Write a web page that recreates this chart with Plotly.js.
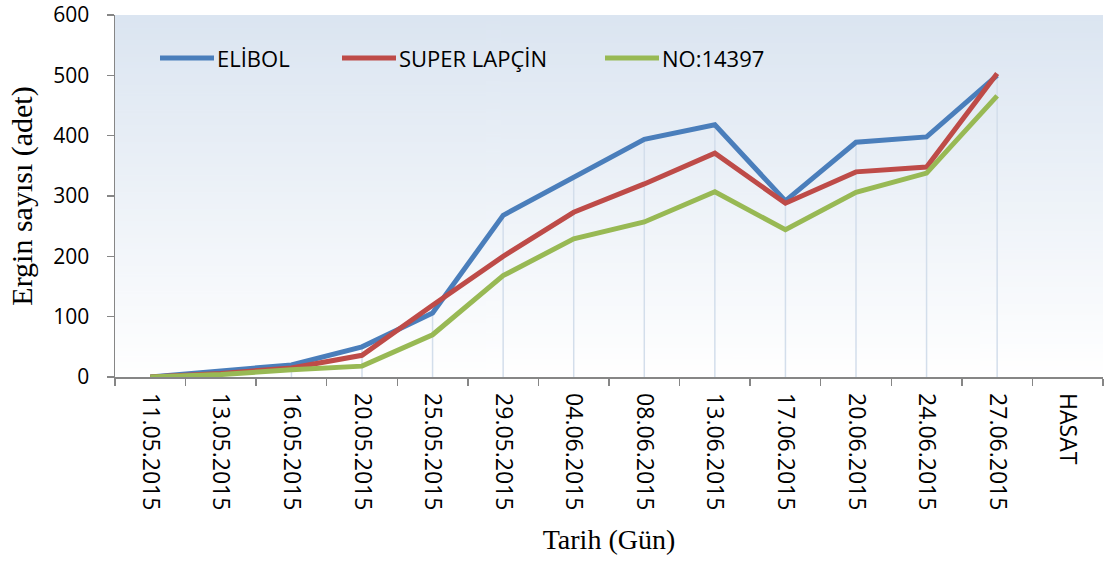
<!DOCTYPE html>
<html>
<head>
<meta charset="utf-8">
<script src="https://cdn.plot.ly/plotly-3.0.1.min.js"></script>
<style>html,body{margin:0;padding:0;background:#fff;}#chart{width:1105px;height:566px;}</style>
</head>
<body>
<div id="chart"></div>
<script>
// ---- data ----
const dates = ["11.05.2015","13.05.2015","16.05.2015","20.05.2015","25.05.2015","29.05.2015","04.06.2015","08.06.2015","13.06.2015","17.06.2015","20.06.2015","24.06.2015","27.06.2015","HASAT"];
const seriesNames = ["ELİBOL","SUPER LAPÇİN","NO:14397"];
const elibol = [0, 9, 20, 50, 106, 268, 331, 394, 418, 292, 389, 398, 500, null];
const superLapcin = [0, 6, 15, 36, 119, 200, 273, 320, 371, 288, 340, 348, 503, null];
const no14397 = [0, 4, 12, 18, 70, 168, 229, 257, 307, 244, 306, 338, 466, null];
const seriesColors = ["#4a7ebb","#be4b48","#98b954"];

const allSeries = [elibol, superLapcin, no14397];

// drop lines from the highest point of each category down to the axis
const dropX = [], dropY = [];
dates.forEach((d, i) => {
  const vals = allSeries.map(s => s[i]).filter(v => v !== null);
  if (vals.length) {
    dropX.push(d, d, null);
    dropY.push(0, Math.max(...vals), null);
  }
});

const traces = [{
  x: dropX, y: dropY, type: "scatter", mode: "lines",
  line: {color: "#d3deeb", width: 1.5}, hoverinfo: "skip", showlegend: false
}];
allSeries.forEach((s, k) => {
  traces.push({
    x: dates, y: s, name: seriesNames[k], type: "scatter", mode: "lines",
    line: {color: seriesColors[k], width: 5}, showlegend: false
  });
});

// gradient background image
const cv = document.createElement("canvas");
cv.width = 4; cv.height = 256;
const ctx = cv.getContext("2d");
const g = ctx.createLinearGradient(0, 0, 0, 256);
g.addColorStop(0, "#dbe5f1");
g.addColorStop(1, "#ffffff");
ctx.fillStyle = g; ctx.fillRect(0, 0, 4, 256);
const bgUrl = cv.toDataURL();

// custom legend (pixel layout converted to paper coords)
const W = 1105, H = 566, mL = 115, mR = 2, mT = 15, mB = 189;
const pw = W - mL - mR, ph = H - mT - mB;
const px = x => (x - mL) / pw;
const py = y => 1 - (y - mT) / ph;
const legStarts = [160, 342, 605];
const legY = 58;
const shapes = [], annotations = [];
seriesNames.forEach((n, k) => {
  shapes.push({type: "line", xref: "paper", yref: "paper",
    x0: px(legStarts[k]), x1: px(legStarts[k] + 54), y0: py(legY), y1: py(legY),
    line: {color: seriesColors[k], width: 5}});
  annotations.push({xref: "paper", yref: "paper", x: px(legStarts[k] + 55), y: py(legY),
    xanchor: "left", yanchor: "middle", text: n, showarrow: false,
    font: {family: "Open Sans", size: 22, color: "#000"}});
});

const layout = {
  width: W, height: H,
  margin: {l: mL, r: mR, t: mT, b: mB},
  paper_bgcolor: "#ffffff",
  plot_bgcolor: "rgba(0,0,0,0)",
  showlegend: false,
  images: [{source: bgUrl, xref: "paper", yref: "paper", x: 0, y: 1, sizex: 1, sizey: 1,
    xanchor: "left", yanchor: "top", sizing: "stretch", layer: "below"}],
  xaxis: {
    type: "category", range: [-0.5, 13.5], tickson: "boundaries",
    ticks: "outside", ticklen: 7, tickcolor: "#868686", tickwidth: 1.5,
    showline: true, linecolor: "#868686", linewidth: 1.5,
    showgrid: false, zeroline: false, tickangle: 90,
    tickfont: {family: "Open Sans", size: 23, color: "#000"},
    ticklabelstandoff: 10,
    title: {text: "Tarih (Gün)", font: {family: "Liberation Serif", size: 28, color: "#000"}, standoff: 20}
  },
  yaxis: {
    range: [0, 600], tickvals: [0,100,200,300,400,500,600],
    ticks: "outside", ticklen: 7, tickcolor: "#868686", tickwidth: 1.5,
    showline: true, linecolor: "#868686", linewidth: 1.5,
    showgrid: false, zeroline: false,
    tickfont: {family: "Open Sans", size: 21, color: "#000"},
    ticklabelstandoff: 13,
    title: {text: "Ergin sayısı (adet)", font: {family: "Liberation Serif", size: 30, color: "#000"}, standoff: 12}
  },
  shapes: shapes,
  annotations: annotations
};

Plotly.newPlot("chart", traces, layout, {staticPlot: true, displayModeBar: false});
</script>
</body>
</html>
